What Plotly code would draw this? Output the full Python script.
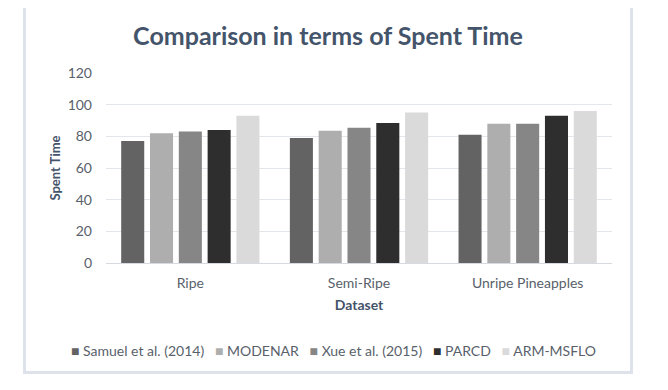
import plotly.graph_objects as go

# Data
datasets = ["Ripe", "Semi-Ripe", "Unripe Pineapples"]
samuel_2014 = [77, 79, 81]
modenar = [82, 83.5, 88]
xue_2015 = [83, 85.5, 88]
parcd = [84, 88.5, 93]
arm_msflo = [93, 95, 96]

series_names = ["Samuel et al. (2014)", "MODENAR", "Xue et al. (2015)", "PARCD", "ARM-MSFLO"]
series_values = [samuel_2014, modenar, xue_2015, parcd, arm_msflo]
series_colors = ["#636363", "#AEAEAE", "#868686", "#2E2E2E", "#DADADA"]

# page body has an 8px margin, so the figure is made that much smaller
OFF = 8
W, H = 668 - OFF, 390 - OFF
M_L, M_R, M_T, M_B = 106 - OFF, 56, 73 - OFF, 127
plot_w = W - M_L - M_R
plot_h = H - M_T - M_B

fig = go.Figure()
for name, vals, col in zip(series_names, series_values, series_colors):
    fig.add_trace(go.Bar(
        x=datasets, y=vals, name=name,
        marker=dict(color=col, line=dict(width=0)),
    ))

# outer chart frame (page pixels converted to paper coords of the plot area)
fx0, fx1, fy0, fy1 = 24.5 - OFF, 631.5 - OFF, 6.5 - OFF, 372.5 - OFF
fig.add_shape(
    type="rect", xref="paper", yref="paper",
    x0=(fx0 - M_L) / plot_w, x1=(fx1 - M_L) / plot_w,
    y0=(H - M_B - fy1) / plot_h, y1=(H - M_B - fy0) / plot_h,
    line=dict(color="#DEE2EA", width=3), layer="below",
)

text_col = "#595F6B"
title_col = "#44546A"

# legend row built as a single annotation (small squares + names)
nb = "\u00a0"
legend_text = (nb * 3).join(
    f'<span style="color:{c}">■</span>{nb}{n}' for n, c in zip(series_names, series_colors)
)
fig.add_annotation(
    text=legend_text, showarrow=False,
    xref="paper", yref="paper",
    x=(333 - OFF - M_L) / plot_w, y=(H - M_B - (350 - OFF)) / plot_h,
    xanchor="center", yanchor="middle",
    font=dict(size=14, color=text_col),
)

fig.update_layout(
    width=W, height=H,
    margin=dict(l=M_L, r=M_R, t=M_T, b=M_B),
    paper_bgcolor="white", plot_bgcolor="white",
    font=dict(family="Lato, Open Sans, sans-serif", size=13, color=text_col),
    title=dict(
        text="<b>Comparison in terms of Spent Time</b>",
        x=(328 - OFF) / W, xref="container", xanchor="center",
        y=1 - (36 - OFF) / H, yref="container", yanchor="middle",
        font=dict(size=25, color=title_col),
    ),
    barmode="group", bargap=0.146, bargroupgap=0.2,
    xaxis=dict(
        title=dict(text="<b>Dataset</b>", font=dict(size=14, color=title_col), standoff=10),
        showgrid=False, showline=False, ticks="", tickfont=dict(size=14, color=text_col),
        ticklabelstandoff=10,
    ),
    yaxis=dict(
        title=dict(text="<b>Spent Time</b>", font=dict(size=13, color=title_col), standoff=4),
        range=[0, 120], dtick=20, showgrid=True, gridcolor="#E3E6EB", gridwidth=1,
        zeroline=True, zerolinecolor="#D6D9DE", zerolinewidth=1,
        showline=False, ticks="", tickfont=dict(size=14, color=text_col),
        ticklabelstandoff=13,
    ),
    showlegend=False,
)

fig.write_html("out.html")
